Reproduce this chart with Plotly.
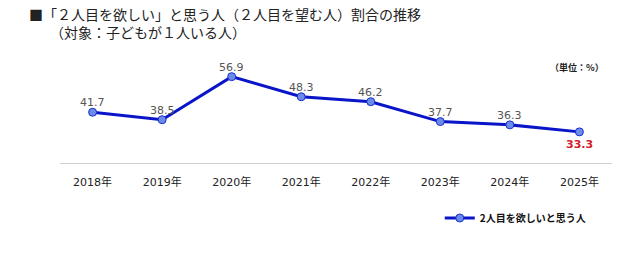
import plotly.graph_objects as go

years = ["2018年", "2019年", "2020年", "2021年", "2022年", "2023年", "2024年", "2025年"]
values = [41.7, 38.5, 56.9, 48.3, 46.2, 37.7, 36.3, 33.3]
series_name = "2人目を欲しいと思う人"
title_line1 = "■「２人目を欲しい」と思う人（２人目を望む人）割合の推移"
title_line2 = "（対象：子どもが１人いる人）"
unit_text = "（単位：%）"

font_family = "Noto Sans CJK JP, sans-serif"
num_font = "Verdana, DejaVu Sans, sans-serif"

fig = go.Figure()
fig.add_trace(go.Scatter(
    x=years, y=values, mode="lines+markers",
    name=f"<b>{series_name}</b>",
    line=dict(color="#0A14C8", width=3),
    marker=dict(size=8, color="#6A8CE8", line=dict(color="#1A2ED0", width=1)),
))

for i, (yr, v) in enumerate(zip(years, values)):
    last = i == len(values) - 1
    fig.add_annotation(
        x=yr, y=v, xref="x", yref="y", showarrow=False,
        text=f"<b>{v:.1f}</b>" if last else f"{v:.1f}",
        yanchor="top" if last else "bottom",
        yshift=-4 if last else 1,
        font=dict(size=11, color="#D0202A" if last else "#555555", family=num_font),
    )

fig.update_layout(
    width=640, height=253,
    margin=dict(l=60, r=28, t=46, b=90),
    paper_bgcolor="white", plot_bgcolor="white",
    font=dict(family=font_family, color="#222222"),
    xaxis=dict(showgrid=False, showline=True, linecolor="#D0D0D0", linewidth=1,
               ticks="", ticklabelstandoff=9,
               tickfont=dict(size=11, color="#222222",
                             family="Verdana, DejaVu Sans, Noto Sans CJK JP, sans-serif")),
    yaxis=dict(range=[20, 70], showgrid=False, showticklabels=False, zeroline=False,
               showline=False),
    showlegend=True,
    legend=dict(x=0.688, y=-0.47, xanchor="left", yanchor="middle", orientation="h",
                font=dict(size=10, color="#111111", family=font_family),
                bgcolor="rgba(0,0,0,0)", itemwidth=30),
)

fig.add_annotation(text=title_line1 + "<br>　&#8194;" + title_line2,
                   xref="paper", yref="paper", x=-0.06, y=1.0,
                   xanchor="left", yanchor="bottom", align="left", showarrow=False,
                   font=dict(size=14, color="#222222", family=font_family), yshift=2)
fig.add_annotation(text=f"<b>{unit_text}</b>", xref="paper", yref="paper", x=0.99, y=0.82,
                   xanchor="right", yanchor="middle", showarrow=False,
                   font=dict(size=9, color="#222222", family=font_family))

fig.write_html("out.html")
